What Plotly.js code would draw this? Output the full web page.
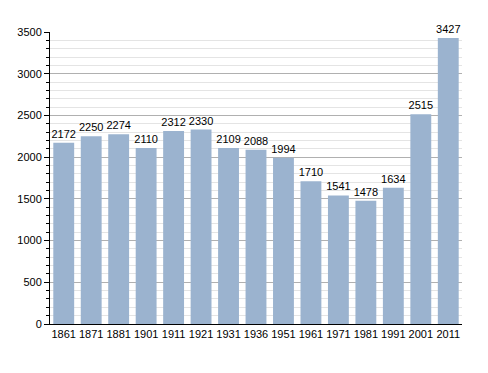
<!DOCTYPE html>
<html><head><meta charset="utf-8">
<script src="https://cdn.plot.ly/plotly-3.0.1.min.js"></script>
<style>html,body{margin:0;padding:0;background:#fff}</style>
</head><body>
<div id="chart" style="width:488px;height:373px"></div>
<script>
const years = ["1861","1871","1881","1901","1911","1921","1931","1936","1951","1961","1971","1981","1991","2001","2011"];
const population = [2172,2250,2274,2110,2312,2330,2109,2088,1994,1710,1541,1478,1634,2515,3427];

Plotly.newPlot('chart', [{
  type: 'bar',
  x: years,
  y: population,
  text: population.map(String),
  textposition: 'outside',
  constraintext: 'none',
  cliponaxis: false,
  textfont: {family: 'Liberation Sans, Arial, sans-serif', size: 11, color: '#000'},
  marker: {color: '#9bb3cf', line: {width: 0}},
  hoverinfo: 'none'
}], {
  width: 488, height: 373,
  margin: {l: 50, r: 26, t: 32, b: 49},
  paper_bgcolor: '#fff', plot_bgcolor: '#fff',
  bargap: 0.24,
  showlegend: false,
  font: {family: 'Liberation Sans, Arial, sans-serif', size: 11, color: '#000'},
  xaxis: {
    type: 'category',
    showline: true, linecolor: '#000', linewidth: 1,
    ticks: '', showgrid: false, tickfont: {size: 11}
  },
  yaxis: {
    range: [0, 3500], dtick: 500, tick0: 0,
    showline: true, linecolor: '#000', linewidth: 1,
    ticks: 'outside', ticklen: 5, tickcolor: '#000',
    showgrid: true, gridcolor: '#b0b0b0', gridwidth: 1,
    zeroline: false, tickfont: {size: 11},
    minor: {dtick: 100, ticks: 'outside', ticklen: 3, tickcolor: '#000', showgrid: true, gridcolor: '#e4e4e4', gridwidth: 1}
  }
}, {staticPlot: true, displayModeBar: false});
</script>
</body></html>
